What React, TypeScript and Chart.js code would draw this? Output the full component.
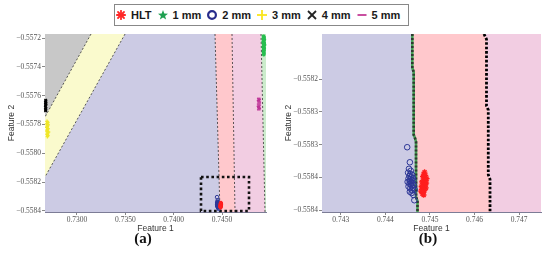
import React, { useEffect, useRef } from 'react';
import { Chart, registerables } from 'chart.js';
Chart.register(...registerables);

// ---------- Panel (a) axes ----------
const A_X_RANGE = [0.72669, 0.74955];
const A_Y_RANGE = [-0.558407, -0.557172];
const A_X_TICKS = [0.73, 0.735, 0.74, 0.745];
const A_X_LABELS = ['0.7300', '0.7350', '0.7400', '0.7450'];
const A_Y_TICKS = [-0.5572, -0.5574, -0.5576, -0.5578, -0.558, -0.5582, -0.5584];
const A_Y_LABELS = ['\u22120.5572', '\u22120.5574', '\u22120.5576', '\u22120.5578', '\u22120.5580', '\u22120.5582', '\u22120.5584'];

// ---------- Panel (b) axes ----------
const B_X_RANGE = [0.74258, 0.74749];
const B_Y_RANGE = [-0.558403, -0.558131];
const B_X_TICKS = [0.743, 0.744, 0.745, 0.746, 0.747];
const B_X_LABELS = ['0.743', '0.744', '0.745', '0.746', '0.747'];
const B_Y_TICKS = [-0.5582, -0.55825, -0.5583, -0.55835, -0.5584];
const B_Y_LABELS = ['\u22120.5582', '\u22120.5583', '\u22120.5583', '\u22120.5584', '\u22120.5584'];

// ---------- Decision boundaries, panel (a) ----------
const A_LINE1 = [{ x: 0.73145, y: -0.557172 }, { x: 0.72669, y: -0.557748 }]; // 4mm | 3mm
const A_LINE2 = [{ x: 0.73497, y: -0.557172 }, { x: 0.72669, y: -0.558164 }]; // 3mm | 2mm
const A_B1 = [{ x: 0.744275, y: -0.557172 }, { x: 0.744792, y: -0.558407 }]; // 2mm | HLT
const A_B2 = [{ x: 0.746033, y: -0.557172 }, { x: 0.746344, y: -0.558407 }]; // HLT | 5mm
const A_B3 = [{ x: 0.749033, y: -0.557172 }, { x: 0.749447, y: -0.558407 }]; // 5mm | 1mm
const ZOOM_BOX_X = [0.742827, 0.747792];
const ZOOM_BOX_Y = [-0.558164, -0.5584];

// ---------- Decision boundaries, panel (b) ----------
const B_GREEN = [
  { x: 0.744605, y: -0.558131 }, { x: 0.744605, y: -0.558183 }, { x: 0.744636, y: -0.558189 },
  { x: 0.744636, y: -0.558285 }, { x: 0.744665, y: -0.55829 }, { x: 0.744688, y: -0.558296 },
  { x: 0.744688, y: -0.55838 }, { x: 0.744721, y: -0.558386 }, { x: 0.744721, y: -0.558403 },
];
const B_BLACK = [
  { x: 0.746212, y: -0.558131 }, { x: 0.746268, y: -0.558139 }, { x: 0.746268, y: -0.558241 },
  { x: 0.746308, y: -0.558247 }, { x: 0.746308, y: -0.558346 }, { x: 0.746347, y: -0.558353 },
  { x: 0.746347, y: -0.558403 },
];

// ---------- Samples ----------
const RED_HLT = [
  { x: 0.74488, y: -0.558342 }, { x: 0.74486, y: -0.558345 }, { x: 0.7449, y: -0.558347 },
  { x: 0.74484, y: -0.558349 }, { x: 0.74488, y: -0.558351 }, { x: 0.74493, y: -0.558352 },
  { x: 0.74486, y: -0.558354 }, { x: 0.7449, y: -0.558355 }, { x: 0.74482, y: -0.558357 },
  { x: 0.74487, y: -0.558358 }, { x: 0.74492, y: -0.558359 }, { x: 0.74485, y: -0.558361 },
  { x: 0.74489, y: -0.558362 }, { x: 0.74481, y: -0.558364 }, { x: 0.74486, y: -0.558365 },
  { x: 0.74491, y: -0.558366 }, { x: 0.74484, y: -0.558368 }, { x: 0.74488, y: -0.55837 },
  { x: 0.7448, y: -0.558371 }, { x: 0.74485, y: -0.558373 }, { x: 0.74483, y: -0.558375 },
  { x: 0.74486, y: -0.558377 },
];
const BLUE_2MM = [
  { x: 0.74449, y: -0.558304 }, { x: 0.74455, y: -0.558327 }, { x: 0.74453, y: -0.558337 },
  { x: 0.74457, y: -0.55834 }, { x: 0.74451, y: -0.558343 }, { x: 0.74456, y: -0.558345 },
  { x: 0.7446, y: -0.558346 }, { x: 0.74454, y: -0.558348 }, { x: 0.74458, y: -0.55835 },
  { x: 0.74462, y: -0.558351 }, { x: 0.74452, y: -0.558352 }, { x: 0.74456, y: -0.558353 },
  { x: 0.74459, y: -0.558354 }, { x: 0.74463, y: -0.558355 }, { x: 0.74455, y: -0.558356 },
  { x: 0.7445, y: -0.558357 }, { x: 0.74458, y: -0.558358 }, { x: 0.74461, y: -0.558359 },
  { x: 0.74454, y: -0.55836 }, { x: 0.74457, y: -0.558361 }, { x: 0.74464, y: -0.558362 },
  { x: 0.74459, y: -0.558363 }, { x: 0.74452, y: -0.558364 }, { x: 0.74462, y: -0.558366 },
  { x: 0.74456, y: -0.558367 }, { x: 0.74466, y: -0.558369 }, { x: 0.7446, y: -0.55837 },
  { x: 0.74455, y: -0.558372 }, { x: 0.74459, y: -0.558374 }, { x: 0.74463, y: -0.558377 },
  { x: 0.74465, y: -0.558385 },
];
const GREEN_1MM = [
  { x: 0.7493, y: -0.557188 }, { x: 0.74935, y: -0.557195 }, { x: 0.74928, y: -0.557203 },
  { x: 0.74938, y: -0.55721 }, { x: 0.74932, y: -0.557218 }, { x: 0.74926, y: -0.557225 },
  { x: 0.74936, y: -0.557232 }, { x: 0.7493, y: -0.55724 }, { x: 0.7494, y: -0.557247 },
  { x: 0.74933, y: -0.557255 }, { x: 0.74927, y: -0.557262 }, { x: 0.74937, y: -0.55727 },
  { x: 0.74931, y: -0.557278 }, { x: 0.74935, y: -0.557286 }, { x: 0.74929, y: -0.557295 },
  { x: 0.74934, y: -0.557305 }, { x: 0.74932, y: -0.557315 },
];
const YELLOW_3MM = [
  { x: 0.7269, y: -0.557778 }, { x: 0.72698, y: -0.557786 }, { x: 0.72686, y: -0.557795 },
  { x: 0.72702, y: -0.557803 }, { x: 0.72693, y: -0.557812 }, { x: 0.72688, y: -0.55782 },
  { x: 0.727, y: -0.557828 }, { x: 0.72694, y: -0.557836 }, { x: 0.72689, y: -0.557845 },
  { x: 0.72705, y: -0.557852 }, { x: 0.72696, y: -0.55786 }, { x: 0.72691, y: -0.557868 },
  { x: 0.72699, y: -0.557876 }, { x: 0.72694, y: -0.557884 },
];
const BLACK_4MM = [
  { x: 0.72676, y: -0.557632 }, { x: 0.72678, y: -0.55764 }, { x: 0.72674, y: -0.557648 },
  { x: 0.72679, y: -0.557656 }, { x: 0.72675, y: -0.557664 }, { x: 0.72677, y: -0.557672 },
  { x: 0.72673, y: -0.55768 }, { x: 0.72678, y: -0.557688 }, { x: 0.72676, y: -0.557696 },
  { x: 0.72675, y: -0.557704 },
];
const MAGENTA_5MM = [
  { x: 0.7488, y: -0.557618 }, { x: 0.74884, y: -0.557626 }, { x: 0.74878, y: -0.557634 },
  { x: 0.74882, y: -0.557642 }, { x: 0.74886, y: -0.55765 }, { x: 0.74879, y: -0.557658 },
  { x: 0.74883, y: -0.557666 }, { x: 0.74877, y: -0.557674 }, { x: 0.74881, y: -0.557682 },
  { x: 0.74885, y: -0.55769 }, { x: 0.7488, y: -0.557698 },
];

const LEGEND_LABELS = ['HLT', '1 mm', '2 mm', '3 mm', '4 mm', '5 mm'];
const LEGEND_KINDS = ['asterisk', 'star', 'circle', 'plus', 'cross', 'dash'];

const COL = {
  purple: 'rgb(204,203,228)',
  red: 'rgb(255,200,204)',
  pink: 'rgb(242,205,226)',
  gray: 'rgb(200,200,200)',
  yellow: 'rgb(250,250,205)',
  green: 'rgb(204,236,204)',
};

const regionPlugin = {
  id: 'regions',
  beforeDatasetsDraw(chart: any, _args: any, opts: any) {
    const { ctx, chartArea, scales } = chart;
    const polys = (opts && opts.polygons) || [];
    ctx.save();
    ctx.beginPath();
    ctx.rect(chartArea.left, chartArea.top, chartArea.right - chartArea.left, chartArea.bottom - chartArea.top);
    ctx.clip();
    for (const p of polys) {
      ctx.beginPath();
      p.points.forEach((pt: any, i: number) => {
        const X = scales.x.getPixelForValue(pt.x);
        const Y = scales.y.getPixelForValue(pt.y);
        if (i === 0) ctx.moveTo(X, Y);
        else ctx.lineTo(X, Y);
      });
      ctx.closePath();
      ctx.fillStyle = p.color;
      ctx.fill();
    }
    ctx.restore();
  },
};

function lineSet(data: any[], color: string, width: number, dash: number[], clip: any = undefined, dashOffset = 0) {
  return {
    type: 'scatter',
    data,
    showLine: true,
    borderColor: color,
    borderWidth: width,
    borderDash: dash,
    borderDashOffset: dashOffset,
    pointRadius: 0,
    fill: false,
    tension: 0,
    clip,
  };
}

function pointSets(r: number, clip: any) {
  const mk = (data: any[], style: string, color: string, bw: number, fillCol: string) => ({
    type: 'scatter',
    data,
    pointStyle: style,
    pointRadius: r,
    pointBorderColor: color,
    pointBackgroundColor: fillCol,
    pointBorderWidth: bw,
    borderColor: color,
    backgroundColor: fillCol,
    clip,
  });
  return [
    mk(RED_HLT, 'star', 'rgb(255,30,30)', 1.3, 'rgb(255,30,30)'),
    mk(BLUE_2MM, 'circle', 'rgb(45,55,150)', 1, 'rgba(0,0,0,0)'),
    mk(GREEN_1MM, 'star', 'rgb(40,190,80)', 1.3, 'rgb(40,190,80)'),
    mk(YELLOW_3MM, 'cross', 'rgb(240,230,40)', 1.3, 'rgb(240,230,40)'),
    mk(BLACK_4MM, 'crossRot', 'rgb(0,0,0)', 1.3, 'rgb(0,0,0)'),
    mk(MAGENTA_5MM, 'line', 'rgb(190,50,150)', 1.3, 'rgb(190,50,150)'),
  ];
}

function axisOptions(range: number[], ticks: number[], labels: string[], isX: boolean) {
  const tickFont = { family: '"Liberation Serif", serif', size: 7.5 };
  return {
    type: 'linear',
    position: isX ? 'bottom' : 'left',
    min: range[0],
    max: range[1],
    afterBuildTicks: (s: any) => {
      s.ticks = ticks.map((v) => ({ value: v }));
    },
    afterFit: (s: any) => {
      if (isX) s.height = 23;
      else s.width = 45;
    },
    ticks: {
      autoSkip: false,
      maxRotation: 0,
      padding: 1,
      color: '#555',
      font: tickFont,
      callback: (v: number) => {
        let best = 0;
        ticks.forEach((t, i) => {
          if (Math.abs(t - v) < Math.abs(ticks[best] - v)) best = i;
        });
        return labels[best];
      },
    },
    grid: { drawOnChartArea: false, drawTicks: true, tickLength: 3, color: '#888' },
    border: { display: true, color: '#7c7c96', width: 1 },
    title: {
      display: true,
      text: isX ? 'Feature 1' : 'Feature 2',
      color: '#333',
      font: { family: '"Liberation Sans", Arial, sans-serif', size: 8.5 },
      padding: isX ? { top: 0, bottom: 1 } : { top: 7, bottom: 0 },
    },
  };
}

function baseOptions(xr: number[], yr: number[], xt: number[], xl: string[], yt: number[], yl: string[], polygons: any[], padRight: number) {
  return {
    responsive: false,
    animation: false,
    events: [],
    layout: { padding: { left: 0, top: 34, right: padRight, bottom: 24 } },
    plugins: {
      legend: { display: false },
      tooltip: { enabled: false },
      regions: { polygons },
    },
    scales: {
      x: axisOptions(xr, xt, xl, true),
      y: axisOptions(yr, yt, yl, false),
    },
  };
}

function ChartA() {
  const ref = useRef<HTMLCanvasElement>(null);
  useEffect(() => {
    const [x0, x1] = A_X_RANGE;
    const [yb, yt] = A_Y_RANGE;
    const polygons = [
      { color: COL.purple, points: [{ x: x0, y: yt }, { x: x1, y: yt }, { x: x1, y: yb }, { x: x0, y: yb }] },
      { color: COL.yellow, points: [{ x: x0, y: yt }, A_LINE2[0], A_LINE2[1]] },
      { color: COL.gray, points: [{ x: x0, y: yt }, A_LINE1[0], A_LINE1[1]] },
      { color: COL.red, points: [A_B1[0], { x: x1, y: yt }, { x: x1, y: yb }, A_B1[1]] },
      { color: COL.pink, points: [A_B2[0], { x: x1, y: yt }, { x: x1, y: yb }, A_B2[1]] },
      { color: COL.green, points: [A_B3[0], { x: x1, y: yt }, { x: x1, y: yb }, A_B3[1]] },
    ];
    const box = [
      { x: ZOOM_BOX_X[0], y: ZOOM_BOX_Y[0] },
      { x: ZOOM_BOX_X[1], y: ZOOM_BOX_Y[0] },
      { x: ZOOM_BOX_X[1], y: ZOOM_BOX_Y[1] },
      { x: ZOOM_BOX_X[0], y: ZOOM_BOX_Y[1] },
      { x: ZOOM_BOX_X[0], y: ZOOM_BOX_Y[0] },
    ];
    const datasets: any[] = [
      ...pointSets(1.8, false),
      lineSet(box, '#111', 2.6, [2.6, 2.6], false),
      lineSet(A_LINE1, '#333', 0.8, [2, 2]),
      lineSet(A_LINE2, '#333', 0.8, [2, 2]),
      lineSet(A_B1, '#333', 0.8, [2, 2]),
      lineSet(A_B2, '#333', 0.8, [2, 2]),
      lineSet(A_B3, '#333', 0.8, [2, 2]),
    ];
    const chart = new Chart(ref.current as HTMLCanvasElement, {
      type: 'scatter',
      data: { datasets },
      options: baseOptions(A_X_RANGE, A_Y_RANGE, A_X_TICKS, A_X_LABELS, A_Y_TICKS, A_Y_LABELS, polygons, 11) as any,
      plugins: [regionPlugin as any],
    });
    return () => chart.destroy();
  }, []);
  return <canvas ref={ref} width={277} height={259} style={{ position: 'absolute', left: 0, top: 0 }} />;
}

function ChartB() {
  const ref = useRef<HTMLCanvasElement>(null);
  useEffect(() => {
    const [x0, x1] = B_X_RANGE;
    const [yb, yt] = B_Y_RANGE;
    const polygons = [
      { color: COL.purple, points: [{ x: x0, y: yt }, { x: x1, y: yt }, { x: x1, y: yb }, { x: x0, y: yb }] },
      { color: COL.red, points: [...B_GREEN, { x: x1, y: yb }, { x: x1, y: yt }] },
      { color: COL.pink, points: [...B_BLACK, { x: x1, y: yb }, { x: x1, y: yt }] },
    ];
    const datasets: any[] = [
      ...pointSets(2.8, true),
      lineSet(B_GREEN, '#2f3a30', 2.6, [2, 2]),
      lineSet(B_GREEN, 'rgb(70,160,85)', 2.6, []),
      lineSet(B_BLACK, '#000', 2.8, [2.6, 1.8]),
    ];
    const chart = new Chart(ref.current as HTMLCanvasElement, {
      type: 'scatter',
      data: { datasets },
      options: baseOptions(B_X_RANGE, B_Y_RANGE, B_X_TICKS, B_X_LABELS, B_Y_TICKS, B_Y_LABELS, polygons, 9) as any,
      plugins: [regionPlugin as any],
    });
    return () => chart.destroy();
  }, []);
  return <canvas ref={ref} width={273} height={259} style={{ position: 'absolute', left: 277, top: 0 }} />;
}

function Marker({ kind }: { kind: string }) {
  const common = { width: 10, height: 10, viewBox: '0 0 10 10', style: { display: 'block' } } as any;
  if (kind === 'asterisk') {
    return (
      <svg {...common}>
        <g stroke="rgb(255,40,40)" strokeWidth={1.8} strokeLinecap="round">
          <line x1="5" y1="0.8" x2="5" y2="9.2" />
          <line x1="0.8" y1="5" x2="9.2" y2="5" />
          <line x1="2" y1="2" x2="8" y2="8" />
          <line x1="8" y1="2" x2="2" y2="8" />
        </g>
      </svg>
    );
  }
  if (kind === 'star') {
    const pts: string[] = [];
    for (let k = 0; k < 10; k++) {
      const a = (-90 + k * 36) * Math.PI / 180;
      const rr = k % 2 === 0 ? 5.3 : 2.2;
      pts.push(`${(5 + rr * Math.cos(a)).toFixed(2)},${(5.3 + rr * Math.sin(a)).toFixed(2)}`);
    }
    return (
      <svg {...common}>
        <polygon points={pts.join(' ')} fill="rgb(30,160,80)" />
      </svg>
    );
  }
  if (kind === 'circle') {
    return (
      <svg {...common}>
        <circle cx="5" cy="5" r="3.9" fill="none" stroke="rgb(40,45,140)" strokeWidth={2.2} />
      </svg>
    );
  }
  if (kind === 'plus') {
    return (
      <svg {...common}>
        <g stroke="rgb(250,230,30)" strokeWidth={1.8}>
          <line x1="5" y1="0" x2="5" y2="10" />
          <line x1="0" y1="5" x2="10" y2="5" />
        </g>
      </svg>
    );
  }
  if (kind === 'cross') {
    return (
      <svg {...common}>
        <g stroke="#222" strokeWidth={1.8}>
          <line x1="1" y1="1" x2="9" y2="9" />
          <line x1="9" y1="1" x2="1" y2="9" />
        </g>
      </svg>
    );
  }
  return (
    <svg {...common}>
      <line x1="0.5" y1="5" x2="9.5" y2="5" stroke="rgb(195,60,150)" strokeWidth={1.8} />
    </svg>
  );
}

function Legend() {
  return (
    <div
      style={{
        position: 'absolute',
        left: 114,
        top: 4,
        width: 292,
        height: 20,
        border: '1.5px solid #888',
        background: '#fff',
        display: 'flex',
        alignItems: 'center',
        paddingLeft: 1,
        zIndex: 2,
        fontFamily: '"Liberation Sans", Arial, sans-serif',
        fontWeight: 'bold',
        fontSize: 11,
        color: '#1a1a1a',
        whiteSpace: 'nowrap',
      }}
    >
      {LEGEND_LABELS.map((lab, i) => (
        <div key={lab} style={{ display: 'flex', alignItems: 'center', marginRight: 6 }}>
          <Marker kind={LEGEND_KINDS[i]} />
          <span style={{ marginLeft: 5 }}>{lab}</span>
        </div>
      ))}
    </div>
  );
}

export default function App() {
  const capStyle: any = {
    position: 'absolute',
    top: 230,
    width: 40,
    textAlign: 'center',
    fontFamily: '"Liberation Serif", serif',
    fontWeight: 'bold',
    fontSize: 15,
    color: '#111',
  };
  return (
    <div style={{ position: 'absolute', left: 0, top: 0, width: 550, height: 259, background: '#fff', overflow: 'hidden' }}>
      <ChartA />
      <ChartB />
      <Legend />
      <div style={{ ...capStyle, left: 143 - 20 }}>(a)</div>
      <div style={{ ...capStyle, left: 428 - 20 }}>(b)</div>
    </div>
  );
}
